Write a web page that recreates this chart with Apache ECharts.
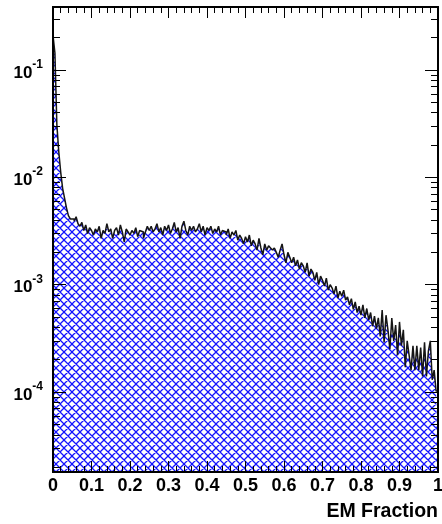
<!DOCTYPE html>
<html>
<head>
<meta charset="utf-8">
<script src="https://cdn.jsdelivr.net/npm/echarts@6/dist/echarts.min.js"></script>
<style>
  html, body { margin: 0; padding: 0; background: #fff; }
  #chart { width: 442px; height: 524px; }
</style>
</head>
<body>
<div id="chart"></div>
<script>
// Histogram of the EM fraction, 200 bins between 0 and 1 (normalised entries per bin)
const xMin = 0;
const xMax = 1;
const nBins = 200;

const binContents = [
  0.21, 0.144, 0.031, 0.0173, 0.0112, 0.0079, 0.0064, 0.0052, 0.0044, 0.0041,
  0.0041, 0.0039, 0.0043, 0.0037, 0.0035, 0.0038, 0.0032, 0.0036, 0.0030, 0.0034,
  0.0032, 0.0029, 0.0033, 0.0031, 0.0035, 0.0027, 0.0032, 0.0030, 0.0037, 0.0031,
  0.0033, 0.0027, 0.0032, 0.0034, 0.0029, 0.0036, 0.0031, 0.0025, 0.0033, 0.0031,
  0.0029, 0.0032, 0.0030, 0.0034, 0.0028, 0.0032, 0.0031, 0.0027, 0.0031, 0.0035,
  0.0032, 0.0035, 0.0031, 0.0033, 0.0037, 0.0031, 0.0034, 0.0029, 0.0035, 0.0032,
  0.0036, 0.0030, 0.0033, 0.0038, 0.0031, 0.0034, 0.0027, 0.0035, 0.0039, 0.0032,
  0.0029, 0.0035, 0.0032, 0.0035, 0.0031, 0.0033, 0.0037, 0.0031, 0.0035, 0.0029,
  0.0034, 0.0032, 0.0035, 0.0030, 0.0033, 0.0031, 0.0035, 0.0029, 0.0032, 0.0031,
  0.0029, 0.0033, 0.0027, 0.0031, 0.0029, 0.0032, 0.0026, 0.0029, 0.0027, 0.0024,
  0.0028, 0.0025, 0.0029, 0.0023, 0.0026, 0.0024, 0.0021, 0.0027, 0.0022, 0.0019,
  0.0024, 0.0021, 0.0023, 0.0022, 0.0021, 0.0022, 0.0020, 0.0018, 0.0021, 0.0024,
  0.0019, 0.0016, 0.0020, 0.0018, 0.0016, 0.0018, 0.0015, 0.0017, 0.0014, 0.0016,
  0.0015, 0.0013, 0.0016, 0.0012, 0.0014, 0.0013, 0.0011, 0.0013, 0.0010, 0.0012,
  0.0011, 0.00097, 0.00115, 0.00089, 0.0010, 0.00093, 0.00082, 0.00097, 0.00075, 0.00087,
  0.00078, 0.00089, 0.00072, 0.00077, 0.00065, 0.00074, 0.00059, 0.00069, 0.00055, 0.00063,
  0.00052, 0.00065, 0.00049, 0.00060, 0.00047, 0.00055, 0.00041, 0.00051, 0.00039, 0.00049,
  0.00033, 0.00058, 0.00029, 0.00052, 0.00038, 0.00025, 0.00049, 0.00030, 0.00042, 0.00022,
  0.00045, 0.00027, 0.00038, 0.00017, 0.00030, 0.00022, 0.00016, 0.00027, 0.00016, 0.00027,
  0.00016, 0.00026, 0.00014, 0.00029, 0.00014, 0.00024, 0.00030, 0.00013, 0.00016, 0.000102
];

// Axis ranges and ticks
const yMin = 1.8e-5;
const yMax = 0.386;
const xTickValues = [0, 0.1, 0.2, 0.3, 0.4, 0.5, 0.6, 0.7, 0.8, 0.9, 1];
const xTickLabels = ['0', '0.1', '0.2', '0.3', '0.4', '0.5', '0.6', '0.7', '0.8', '0.9', '1'];
const yMajorTicks = [1e-4, 1e-3, 1e-2, 1e-1];
const yMajorExponents = ['-4', '-3', '-2', '-1'];
const yMinorTicks = [
  2e-5, 3e-5, 4e-5, 5e-5, 6e-5, 7e-5, 8e-5, 9e-5,
  2e-4, 3e-4, 4e-4, 5e-4, 6e-4, 7e-4, 8e-4, 9e-4,
  2e-3, 3e-3, 4e-3, 5e-3, 6e-3, 7e-3, 8e-3, 9e-3,
  2e-2, 3e-2, 4e-2, 5e-2, 6e-2, 7e-2, 8e-2, 9e-2,
  0.2, 0.3
];
const xTitle = 'EM Fraction';

const FONT = '"Liberation Sans", Arial, Helvetica, sans-serif';

// Blue cross-hatch tile (both diagonals, wrapped so neighbouring tiles join up)
function crossHatch(size, color, width) {
  const c = document.createElement('canvas');
  c.width = size;
  c.height = size;
  const g = c.getContext('2d');
  g.strokeStyle = color;
  g.lineWidth = width;
  g.beginPath();
  for (let k = -1; k <= 1; k++) {
    const o = k * size;
    g.moveTo(o - 2, -2); g.lineTo(o + size + 2, size + 2);
    g.moveTo(o + size + 2, -2); g.lineTo(o - 2, size + 2);
  }
  g.stroke();
  return c;
}

// Histogram outline as explicit steps: flat across each bin, vertical at the edges
const binWidth = (xMax - xMin) / nBins;
const stepData = [];
binContents.forEach((v, i) => {
  stepData.push([xMin + i * binWidth, v]);
  stepData.push([xMin + (i + 1) * binWidth, v]);
});

function xLabel(v) {
  const i = xTickValues.findIndex(t => Math.abs(t - v) < 1e-9);
  return i >= 0 ? xTickLabels[i] : '';
}
function yLabel(v) {
  const i = yMajorTicks.findIndex(t => Math.abs(Math.log10(t) - Math.log10(v)) < 1e-6);
  return i >= 0 ? '{b|10}{s|' + yMajorExponents[i] + '}' : '';
}

const frameLine = { show: true, lineStyle: { color: '#000', width: 2 } };
const labelText = { fontFamily: FONT, fontWeight: 'bold', fontSize: 17, color: '#000' };

function xAxisDef(position, withLabels) {
  return {
    type: 'value',
    position: position,
    z: 5,
    min: xMin,
    max: xMax,
    interval: 0.1,
    axisLine: frameLine,
    axisTick: { show: true, inside: true, length: 11, lineStyle: { color: '#000', width: 1 } },
    minorTick: { show: true, splitNumber: 5, length: 6, lineStyle: { color: '#000', width: 1 } },
    splitLine: { show: false },
    minorSplitLine: { show: false },
    axisLabel: withLabels
      ? Object.assign({ show: true, margin: 5, formatter: xLabel, showMinLabel: true, showMaxLabel: true },
          labelText, { fontSize: 18 })
      : { show: false }
  };
}

function yAxisDef(position, ticks, tickLen, withLabels) {
  return {
    type: 'log',
    logBase: 10,
    position: position,
    z: 5,
    min: yMin,
    max: yMax,
    axisLine: frameLine,
    axisTick: { show: true, inside: true, length: tickLen, customValues: ticks, lineStyle: { color: '#000', width: 1 } },
    minorTick: { show: false },
    splitLine: { show: false },
    axisLabel: withLabels
      ? {
          show: true,
          customValues: yMajorTicks,
          margin: 10,
          formatter: yLabel,
          rich: {
            b: Object.assign({ padding: [6, 0, 0, 0], verticalAlign: 'bottom' }, labelText),
            s: { fontFamily: FONT, fontWeight: 'bold', fontSize: 12, color: '#000', verticalAlign: 'top' }
          }
        }
      : { show: false }
  };
}

const xBottom = xAxisDef('bottom', true);
xBottom.name = xTitle;
xBottom.nameLocation = 'end';
xBottom.nameGap = 0;
xBottom.nameTextStyle = {
  fontFamily: FONT, fontWeight: 'bold', fontSize: 19.5, color: '#000',
  align: 'right', verticalAlign: 'top', padding: [30, 0, 0, 0]
};

const chart = echarts.init(document.getElementById('chart'), null, { renderer: 'canvas' });
chart.setOption({
  animation: false,
  backgroundColor: '#fff',
  grid: {
    left: 53, right: 4, top: 7, bottom: 52,
    outerBoundsMode: 'none',
    show: false
  },
  xAxis: [xBottom, xAxisDef('top', false)],
  yAxis: [
    yAxisDef('left', yMajorTicks, 13, true),
    yAxisDef('left', yMinorTicks, 7, false),
    yAxisDef('right', yMajorTicks, 13, false),
    yAxisDef('right', yMinorTicks, 7, false)
  ],
  series: [{
    type: 'line',
    z: 2,
    xAxisIndex: 0,
    yAxisIndex: 0,
    data: stepData,
    symbol: 'none',
    silent: true,
    lineStyle: { color: '#151515', width: 1.5 },
    areaStyle: {
      origin: 'start',
      opacity: 1,
      color: { image: crossHatch(8, '#1414ff', 1.3), repeat: 'repeat' }
    }
  }]
});
</script>
</body>
</html>
